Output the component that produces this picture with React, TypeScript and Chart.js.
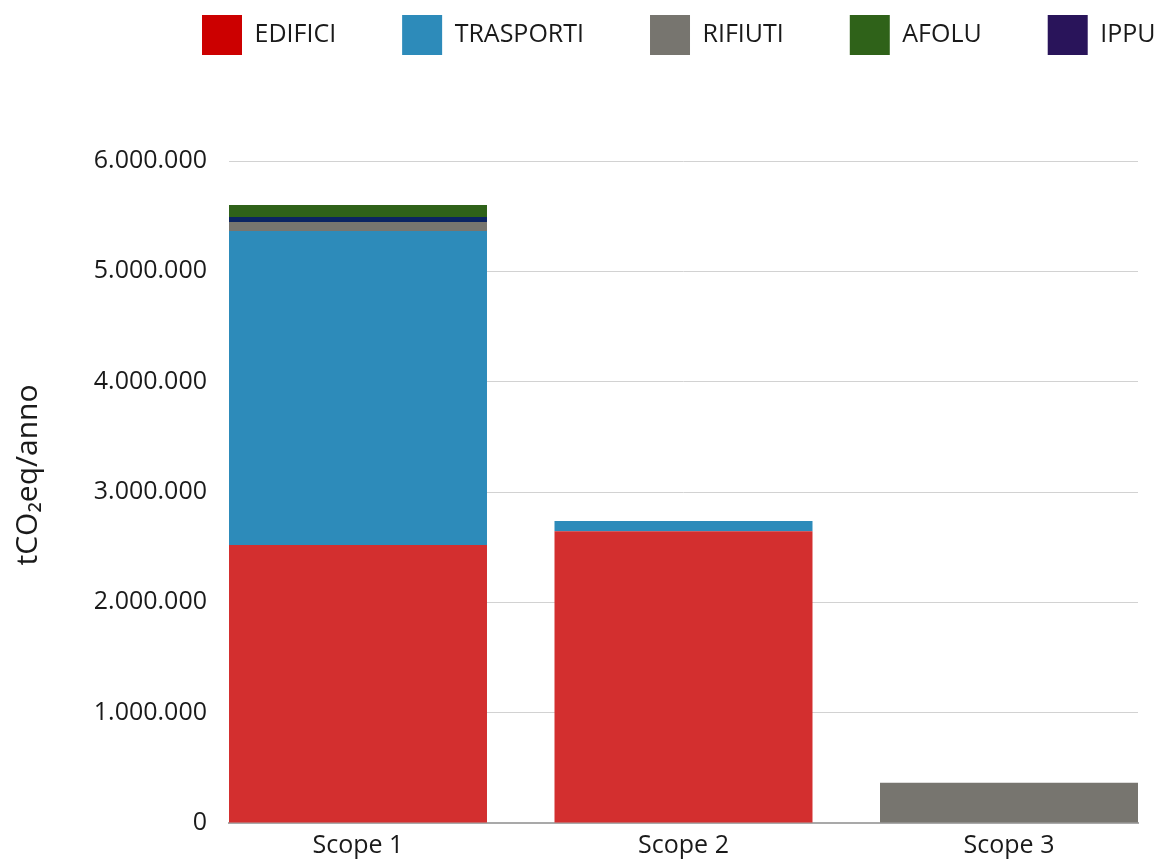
import React, { useEffect, useRef } from 'react';
import { Chart, registerables } from 'chart.js';

Chart.register(...registerables);

// ---- data ----
const categories = ['Scope 1', 'Scope 2', 'Scope 3'];
const edifici = [2520000, 2644000, null];
const trasporti = [2846000, 93000, null];
const rifiuti = [81000, null, 365000];
const ippu = [45000, null, null];
const afolu = [109000, null, null];
const yTickStep = 1000000;
const yMax = 6000000;
const yTitle = 'tCO₂eq/anno';

// stacking order (bottom to top) and legend order
const stackOrder = ['EDIFICI', 'TRASPORTI', 'RIFIUTI', 'IPPU', 'AFOLU'];
const legendOrder = ['EDIFICI', 'TRASPORTI', 'RIFIUTI', 'AFOLU', 'IPPU'];
const seriesValues: Record<string, (number | null)[]> = {
  EDIFICI: edifici,
  TRASPORTI: trasporti,
  RIFIUTI: rifiuti,
  IPPU: ippu,
  AFOLU: afolu,
};
const barColors: Record<string, string> = {
  EDIFICI: '#d32f2f',
  TRASPORTI: '#2d8bba',
  RIFIUTI: '#77756f',
  IPPU: '#0b2462',
  AFOLU: '#2f6219',
};
const legendColors: Record<string, string> = {
  EDIFICI: '#cc0000',
  TRASPORTI: '#2d8bba',
  RIFIUTI: '#77756f',
  AFOLU: '#2f6219',
  IPPU: '#29145a',
};

const FONT = "'Open Sans', 'DejaVu Sans', sans-serif";
const TEXT = '#1a1a1a';
const LEGEND_PAD = 66;
const TITLE_SHIFT = 17;

const fmt = (v: number) => String(Math.round(v)).replace(/\B(?=(\d{3})+(?!\d))/g, '.');

const layoutTweaks = {
  id: 'layoutTweaks',
  beforeDraw(chart: any) {
    const l = chart.legend;
    if (l) {
      l.left = 202 - LEGEND_PAD;
      l.right = 5000;
      l.top = 15 - LEGEND_PAD;
    }
    // move only the y-axis title up a little (restored before datasets draw)
    const y = chart.scales.y;
    if (y) {
      y.top = chart.chartArea.top - TITLE_SHIFT;
      y.bottom = chart.chartArea.bottom - TITLE_SHIFT;
    }
  },
  beforeDatasetsDraw(chart: any) {
    const y = chart.scales.y;
    if (y) {
      y.top = chart.chartArea.top;
      y.bottom = chart.chartArea.bottom;
    }
  },
};

export default function App() {
  const canvasRef = useRef<HTMLCanvasElement | null>(null);

  useEffect(() => {
    document.body.style.margin = '0';
    document.body.style.overflow = 'hidden';
    const canvas = canvasRef.current;
    if (!canvas) return;
    const half = 0.3963;
    const chart = new Chart(canvas, {
      type: 'bar',
      data: {
        datasets: stackOrder.map((name) => ({
          label: name,
          data: seriesValues[name].map((v, i) => ({ x: i, y: v })),
          backgroundColor: barColors[name],
          borderWidth: 0,
          categoryPercentage: 1,
          barPercentage: 0.7926,
        })),
      },
      options: {
        animation: false,
        responsive: true,
        maintainAspectRatio: false,
        layout: { padding: { top: 45, right: 23, bottom: 0, left: 0 } },
        plugins: {
          tooltip: { enabled: false },
          legend: {
            position: 'top',
            align: 'start',
            labels: {
              boxWidth: 40,
              boxHeight: 40,
              padding: LEGEND_PAD,
              color: TEXT,
              font: { family: FONT, size: 25 },
              generateLabels: () =>
                legendOrder.map((name) => ({
                  text: name,
                  fillStyle: legendColors[name],
                  strokeStyle: legendColors[name],
                  lineWidth: 0,
                  hidden: false,
                  fontColor: TEXT,
                  datasetIndex: stackOrder.indexOf(name),
                })),
            },
          },
        },
        scales: {
          x: {
            type: 'linear',
            stacked: true,
            offset: false,
            bounds: 'data',
            min: -half,
            max: categories.length - 1 + half,
            afterBuildTicks: (scale: any) => {
              scale.ticks = categories.map((_, i) => ({ value: i }));
            },
            afterFit: (scale: any) => {
              scale.height = 37;
            },
            grid: { display: false, drawTicks: false, offset: false },
            border: { display: true, color: '#a9a9a9', width: 2 },
            ticks: {
              padding: 8,
              color: TEXT,
              font: { family: FONT, size: 25 },
              maxRotation: 0,
              autoSkip: false,
              callback: (value: any) => categories[Math.round(Number(value))] ?? '',
            },
          },
          y: {
            stacked: true,
            min: 0,
            max: yMax,
            afterFit: (scale: any) => {
              scale.width = 229;
            },
            grid: { color: '#d2d2d2', lineWidth: 1, drawTicks: false },
            border: { display: false },
            ticks: {
              stepSize: yTickStep,
              padding: 22,
              color: TEXT,
              font: { family: FONT, size: 25 },
              callback: (value: any) => fmt(Number(value)),
            },
            title: {
              display: true,
              text: yTitle,
              color: TEXT,
              font: { family: FONT, size: 30 },
              padding: { top: 10, bottom: 0 },
            },
          },
        },
      },
      plugins: [layoutTweaks],
    } as any);
    return () => chart.destroy();
  }, []);

  return (
    <div style={{ position: 'fixed', left: 0, top: 0, width: 1161, height: 860 }}>
      <canvas ref={canvasRef} />
    </div>
  );
}
